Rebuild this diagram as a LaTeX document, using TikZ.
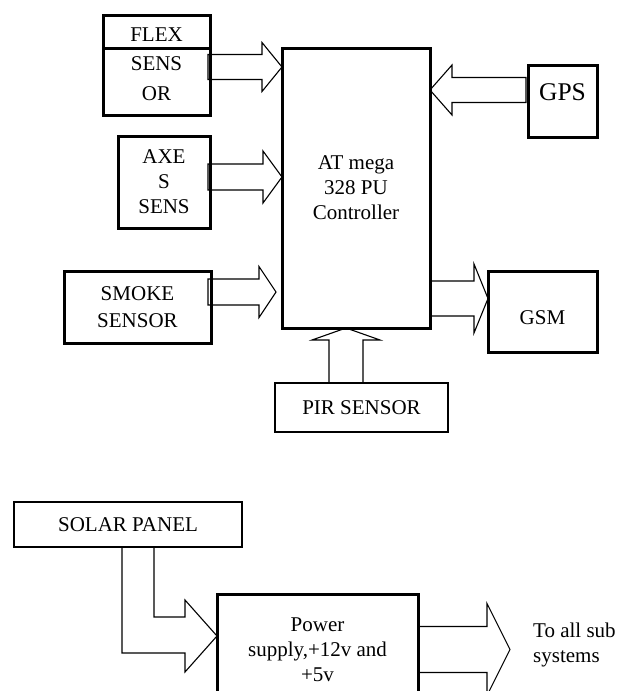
\documentclass[tikz,border=0pt]{standalone}
\usepackage{fontspec}
\setmainfont{Liberation Serif}
\usetikzlibrary{calc,positioning}

\tikzset{
  blk/.style={draw, line width=3pt, inner sep=0pt, outer sep=0pt, align=center, font=\fontsize{21}{25}\selectfont},
  thinblk/.style={blk, line width=1.3pt},
  fat/.style={draw, line width=1.1pt, line join=miter},
}

% 空心箭头: 尾, 尖, 箭杆半宽, 箭头半宽, 箭头长
\newcommand{\fatarrow}[5]{%
  \draw[fat] let \p1=(#1), \p2=(#2), \n1={atan2(\y2-\y1,\x2-\x1)}, \n2={veclen(\x2-\x1,\y2-\y1)} in
    [shift={(\p1)}, rotate=\n1] (0,#3) -- (\n2-#5,#3) -- (\n2-#5,#4) -- (\n2,0) -- (\n2-#5,-#4) -- (\n2-#5,-#3) -- (0,-#3) -- cycle;}

\begin{document}
\begin{tikzpicture}[x=1pt,y=-1pt]
  % 画布
  \useasboundingbox (0,0) rectangle (627,691);
  \clip (0,0) rectangle (627,691);

  % 传感器
  \node[blk, minimum width=107pt, minimum height=33pt, text height=19pt, text depth=0pt] (flex) at (156.5,31.5) {FLEX};
  \node[blk, minimum width=107pt, minimum height=67pt, font=\fontsize{21}{30}\selectfont, text depth=6pt, below=0pt of flex] (flexsens) {SENS\\OR};
  \node[blk, minimum width=92pt, minimum height=92pt] (axes) at (164,182) {AXE\\S\\SENS};
  \node[blk, minimum width=147pt, minimum height=72pt, font=\fontsize{21}{27}\selectfont] (smoke) at (137.5,307) {SMOKE\\SENSOR};

  % 控制器
  \node[blk, minimum width=148pt, minimum height=280pt] (ctrl) at (356,188) {AT mega\\328 PU\\Controller};
  \node[blk, minimum width=69pt, minimum height=72pt, font=\fontsize{25.5}{30}\selectfont, text height=17pt, text depth=18pt] (gps) at (562.5,101) {GPS};
  \node[blk, minimum width=109pt, minimum height=81pt, text height=25pt, text depth=0pt] (gsm) at (542.5,311.5) {GSM};
  \node[thinblk, minimum width=173pt, minimum height=49pt] (pir) at (361.5,407.5) {PIR SENSOR};

  % 电源
  \node[thinblk, minimum width=228pt, minimum height=45pt] (solar) at (128,524.5) {SOLAR PANEL};
  \node[blk, minimum width=201pt, minimum height=111pt] (power) at (317.5,649.5) {Power\\supply,+12v and\\+5v};
  \node[align=left, anchor=west, inner sep=0pt, font=\fontsize{21}{25}\selectfont] (subs) at (533,645) {To all sub\\systems};

  % 箭头
  \coordinate (a1) at ($(flexsens.east)+(-2,-14.5)$);
  \coordinate (a2) at ($(axes.east)+(-2,-5)$);
  \coordinate (a3) at ($(smoke.east)+(-3,-15)$);
  \coordinate (a4) at ($(gps.west)+(-2,-11)$);
  \coordinate (a5) at ($(gsm.west)+(0,-13)$);
  \coordinate (a6) at ($(pir.north)+(-15.5,0)$);
  \coordinate (a7) at ($(power.east)+(92,0)$);
  \fatarrow{a1}{a1 -| ctrl.west}{12.5}{24.5}{20}
  \fatarrow{a2}{a2 -| ctrl.west}{13}{26}{19}
  \fatarrow{a3}{$(a3 -| ctrl.west)+(-6,0)$}{13}{25.5}{17}
  \fatarrow{a4}{a4 -| ctrl.east}{12.5}{25}{22}
  \fatarrow{a5 -| ctrl.east}{a5}{17.5}{34.5}{14}
  \fatarrow{a6}{a6 |- ctrl.south}{17}{34}{12}
  \fatarrow{power.east}{a7}{23}{46}{23}

  % 太阳能板到电源的折线箭头
  \coordinate (pin) at ($(power.west)+(0,-13.5)$);
  \draw[fat] ($(solar.south)+(-6,0)$) |- ($(pin)+(-32,17)$) -- ++(0,19) -- (pin)
    -- ++(-32,-36) -- ++(0,17) -| ($(solar.south)+(26,0)$);
\end{tikzpicture}
\end{document}
